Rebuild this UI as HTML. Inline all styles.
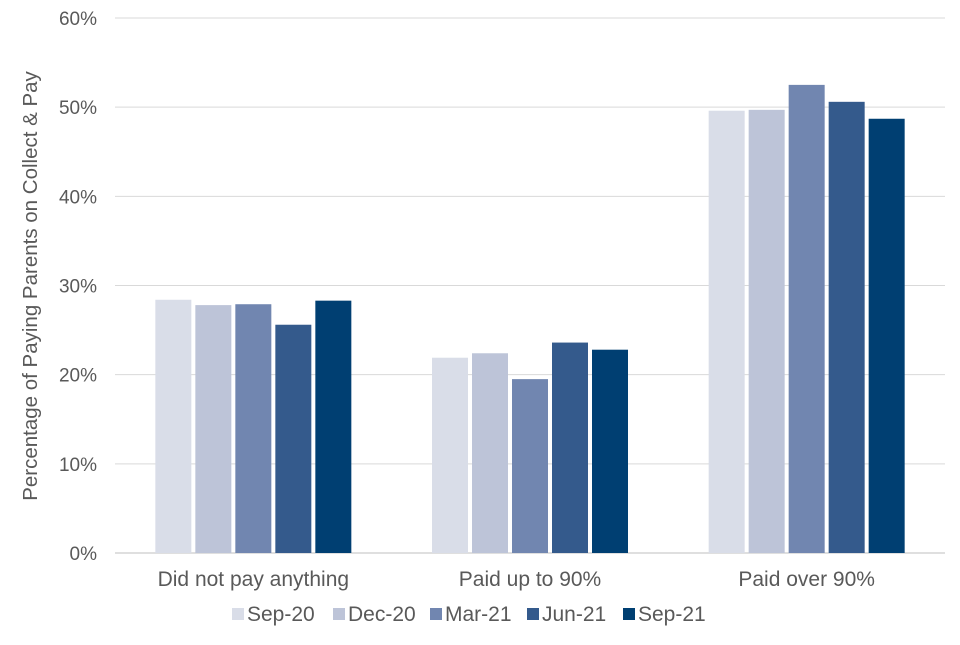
<!DOCTYPE html>
<html><head><meta charset="utf-8">
<style>
html,body{margin:0;padding:0;background:#fff;}
body{width:960px;height:640px;overflow:hidden;font-family:"Liberation Sans",Arial,sans-serif;}
text{font-family:"Liberation Sans",Arial,sans-serif;fill:#595959;}
</style></head>
<body>
<svg id="chart" width="960" height="640" xmlns="http://www.w3.org/2000/svg">
<g id="grid"></g><g id="bars"></g><g id="labels"></g><g id="legend"></g>
<text transform="translate(37,286) rotate(-90)" text-anchor="middle" font-size="20.5">Percentage of Paying Parents on Collect &amp; Pay</text>
</svg>
<script>
const categories = ["Did not pay anything", "Paid up to 90%", "Paid over 90%"];
const seriesNames = ["Sep-20", "Dec-20", "Mar-21", "Jun-21", "Sep-21"];
const sep20 = [28.4, 21.9, 49.6];
const dec20 = [27.8, 22.4, 49.7];
const mar21 = [27.9, 19.5, 52.5];
const jun21 = [25.6, 23.6, 50.6];
const sep21 = [28.3, 22.8, 48.7];
const yTicks = [0, 10, 20, 30, 40, 50, 60];
const colors = ["#D9DDE8", "#BDC4D8", "#7186B0", "#345A8C", "#003F72"];
const series = [sep20, dec20, mar21, jun21, sep21];

const NS = "http://www.w3.org/2000/svg";
const x0 = 115, x1 = 945, yBase = 553, yTop = 18, yMax = 60;
const y = v => yBase - (v / yMax) * (yBase - yTop);
const bandW = (x1 - x0) / categories.length;
const xc = i => x0 + bandW * (i + 0.5);
const barW = 36, step = 40;
function mk(tag, attrs, parent) {
  const e = document.createElementNS(NS, tag);
  for (const k in attrs) e.setAttribute(k, attrs[k]);
  parent.appendChild(e); return e;
}
const grid = document.getElementById("grid");
const bars = document.getElementById("bars");
const labels = document.getElementById("labels");
const legend = document.getElementById("legend");
yTicks.forEach(t => {
  const l = mk("line", {x1: x0, x2: x1, y1: y(t), y2: y(t), stroke: t === 0 ? "#BFBFBF" : "#D9D9D9", "stroke-width": 1}, grid);
  
  
  const tx = mk("text", {x: 97, y: y(t) + 7, "text-anchor": "end", "font-size": 19}, labels);
  tx.textContent = t + "%";
  
  
});
categories.forEach((c, i) => {
  series.forEach((s, j) => {
    const bx = xc(i) + (j - 2) * step - barW / 2;
    const r = mk("rect", {x: bx, y: y(s[i]), width: barW, height: yBase - y(s[i]), fill: colors[j]}, bars);
    
    
  });
  const tx = mk("text", {x: xc(i), y: 586, "text-anchor": "middle", "font-size": 21}, labels);
  tx.textContent = c;
  
  
});
const legX = [232, 333, 430, 527, 623];
seriesNames.forEach((n, j) => {
  const g = mk("g", {}, legend);
  
  
  mk("rect", {x: legX[j], y: 608, width: 12, height: 12, fill: colors[j]}, g);
  const tx = mk("text", {x: legX[j] + 15, y: 621, "font-size": 21}, g);
  tx.textContent = n;
});
</script>
</body></html>
